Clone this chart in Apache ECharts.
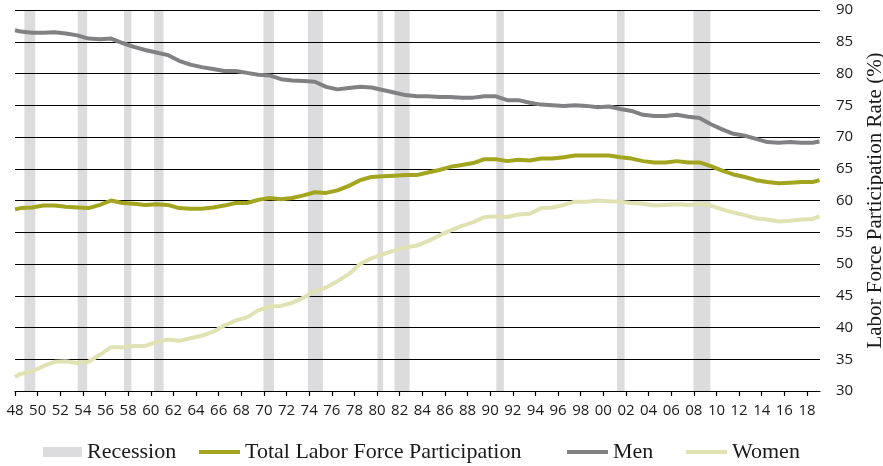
<!DOCTYPE html>
<html>
<head>
<meta charset="utf-8">
<script src="https://cdn.jsdelivr.net/npm/echarts@6/dist/echarts.min.js"></script>
<style>
    html, body {margin: 0; padding: 0; background: #fff;}
    #lfpr {width: 883px; height: 466px;}
</style>
</head>
<body>
<div id="lfpr"></div>
<script>
//*************** data ***************
// x positions in years: Jan 1948, then mid-year points, then the last month shown
var years = [1948.0,
    1948.5, 1949.5, 1950.5, 1951.5, 1952.5, 1953.5, 1954.5, 1955.5, 1956.5, 1957.5,
    1958.5, 1959.5, 1960.5, 1961.5, 1962.5, 1963.5, 1964.5, 1965.5, 1966.5, 1967.5,
    1968.5, 1969.5, 1970.5, 1971.5, 1972.5, 1973.5, 1974.5, 1975.5, 1976.5, 1977.5,
    1978.5, 1979.5, 1980.5, 1981.5, 1982.5, 1983.5, 1984.5, 1985.5, 1986.5, 1987.5,
    1988.5, 1989.5, 1990.5, 1991.5, 1992.5, 1993.5, 1994.5, 1995.5, 1996.5, 1997.5,
    1998.5, 1999.5, 2000.5, 2001.5, 2002.5, 2003.5, 2004.5, 2005.5, 2006.5, 2007.5,
    2008.5, 2009.5, 2010.5, 2011.5, 2012.5, 2013.5, 2014.5, 2015.5, 2016.5, 2017.5,
    2018.5, 2019.1];

var total = [58.6,
    58.8, 58.9, 59.2, 59.2, 59.0, 58.9, 58.8, 59.3, 60.0, 59.6,
    59.5, 59.3, 59.4, 59.3, 58.8, 58.7, 58.7, 58.9, 59.2, 59.6,
    59.6, 60.1, 60.4, 60.2, 60.4, 60.8, 61.3, 61.2, 61.6, 62.3,
    63.2, 63.7, 63.8, 63.9, 64.0, 64.0, 64.4, 64.8, 65.3, 65.6,
    65.9, 66.5, 66.5, 66.2, 66.4, 66.3, 66.6, 66.6, 66.8, 67.1,
    67.1, 67.1, 67.1, 66.8, 66.6, 66.2, 66.0, 66.0, 66.2, 66.0,
    66.0, 65.4, 64.7, 64.1, 63.7, 63.2, 62.9, 62.7, 62.8, 62.9,
    62.9, 63.2];

var men = [86.8,
    86.6, 86.4, 86.4, 86.5, 86.3, 86.0, 85.5, 85.4, 85.5, 84.8,
    84.2, 83.7, 83.3, 82.9, 82.0, 81.4, 81.0, 80.7, 80.4, 80.4,
    80.1, 79.8, 79.7, 79.1, 78.9, 78.8, 78.7, 77.9, 77.5, 77.7,
    77.9, 77.8, 77.4, 77.0, 76.6, 76.4, 76.4, 76.3, 76.3, 76.2,
    76.2, 76.4, 76.4, 75.8, 75.8, 75.4, 75.1, 75.0, 74.9, 75.0,
    74.9, 74.7, 74.8, 74.4, 74.1, 73.5, 73.3, 73.3, 73.5, 73.2,
    73.0, 72.0, 71.2, 70.5, 70.2, 69.7, 69.2, 69.1, 69.2, 69.1,
    69.1, 69.3];

var women = [32.2,
    32.7, 33.1, 33.9, 34.6, 34.7, 34.4, 34.6, 35.7, 36.9, 36.9,
    37.1, 37.1, 37.7, 38.1, 37.9, 38.3, 38.7, 39.3, 40.3, 41.1,
    41.6, 42.7, 43.3, 43.4, 43.9, 44.7, 45.7, 46.3, 47.3, 48.4,
    50.0, 50.9, 51.5, 52.1, 52.6, 52.9, 53.6, 54.5, 55.3, 56.0,
    56.6, 57.4, 57.5, 57.4, 57.8, 57.9, 58.8, 58.9, 59.3, 59.8,
    59.8, 60.0, 59.9, 59.8, 59.6, 59.5, 59.2, 59.3, 59.4, 59.3,
    59.5, 59.2, 58.6, 58.1, 57.7, 57.2, 57.0, 56.7, 56.8, 57.0,
    57.1, 57.5];

// recessions, start / end as fractional years
var recessions = [
    [1948.83, 1949.79], [1953.54, 1954.38], [1957.63, 1958.29], [1960.29, 1961.13],
    [1969.96, 1970.88], [1973.88, 1975.21], [1980.04, 1980.54], [1981.54, 1982.88],
    [1990.54, 1991.21], [2001.21, 2001.88], [2007.96, 2009.46]
];

var tick_years = [1948, 1950, 1952, 1954, 1956, 1958, 1960, 1962, 1964, 1966, 1968,
    1970, 1972, 1974, 1976, 1978, 1980, 1982, 1984, 1986, 1988, 1990, 1992, 1994,
    1996, 1998, 2000, 2002, 2004, 2006, 2008, 2010, 2012, 2014, 2016, 2018];

function pair(ys) {
    return years.map(function (x, i) { return [x, ys[i]]; });
}

//*************** chart ***************
var chart = echarts.init(document.getElementById("lfpr"));

var serif = 'Liberation Serif';
var legend_text = {fontFamily: serif, fontSize: 22, color: '#1a1a1a'};

chart.setOption({
    animation: false,
    grid: {left: 15, right: 63, top: 10, bottom: 75, outerBoundsMode: 'none', containLabel: false},
    legend: [
        {data: [{name: 'Recession', icon: 'rect'}], left: 43, top: 441, padding: 0,
            itemWidth: 39, itemHeight: 10, textStyle: legend_text, selectedMode: false},
        {data: [{name: 'Total Labor Force Participation', icon: 'rect'}], left: 199, top: 441, padding: 0,
            itemWidth: 41, itemHeight: 4, textStyle: legend_text, selectedMode: false},
        {data: [{name: 'Men', icon: 'rect'}], left: 567, top: 441, padding: 0,
            itemWidth: 41, itemHeight: 4, textStyle: legend_text, selectedMode: false},
        {data: [{name: 'Women', icon: 'rect'}], left: 686, top: 441, padding: 0,
            itemWidth: 41, itemHeight: 4, textStyle: legend_text, selectedMode: false}
    ],
    xAxis: {
        type: 'value',
        min: 1948,
        max: 2019.15,
        interval: 2,
        axisLine: {lineStyle: {color: '#000', width: 1.2}},
        axisTick: {length: 5, lineStyle: {color: '#000', width: 1.2}, customValues: tick_years},
        axisLabel: {
            customValues: tick_years,
            margin: 12,
            fontFamily: 'Open Sans',
            fontSize: 15,
            color: '#1a1a1a',
            formatter: function (v) { return String(v % 100).padStart(2, '0'); }
        },
        splitLine: {show: false}
    },
    yAxis: {
        type: 'value',
        position: 'right',
        min: 30,
        max: 90,
        interval: 5,
        axisLine: {show: false},
        axisTick: {show: false},
        axisLabel: {margin: 16, fontFamily: 'Open Sans', fontSize: 15, color: '#1a1a1a'},
        splitLine: {lineStyle: {color: '#000', width: 1.2}},
        name: 'Labor Force Participation Rate (%)',
        nameLocation: 'middle',
        nameRotate: 90,
        nameGap: 45,
        nameTextStyle: {fontFamily: serif, fontSize: 21, color: '#1a1a1a'}
    },
    series: [
        {
            name: 'Recession',
            type: 'line',
            z: -1,
            data: [],
            itemStyle: {color: '#dcdcde'},
            lineStyle: {color: '#dcdcde'},
            markArea: {
                silent: true,
                z: -1,
                itemStyle: {color: '#dcdcde'},
                data: recessions.map(function (r) { return [{xAxis: r[0]}, {xAxis: r[1]}]; })
            }
        },
        {
            name: 'Total Labor Force Participation',
            type: 'line',
            showSymbol: false,
            data: pair(total),
            itemStyle: {color: '#a3a51e'},
            lineStyle: {color: '#a3a51e', width: 4}
        },
        {
            name: 'Men',
            type: 'line',
            showSymbol: false,
            data: pair(men),
            itemStyle: {color: '#818184'},
            lineStyle: {color: '#818184', width: 4}
        },
        {
            name: 'Women',
            type: 'line',
            showSymbol: false,
            data: pair(women),
            itemStyle: {color: '#e0e2b4'},
            lineStyle: {color: '#e0e2b4', width: 4}
        }
    ]
});
</script>
</body>
</html>
